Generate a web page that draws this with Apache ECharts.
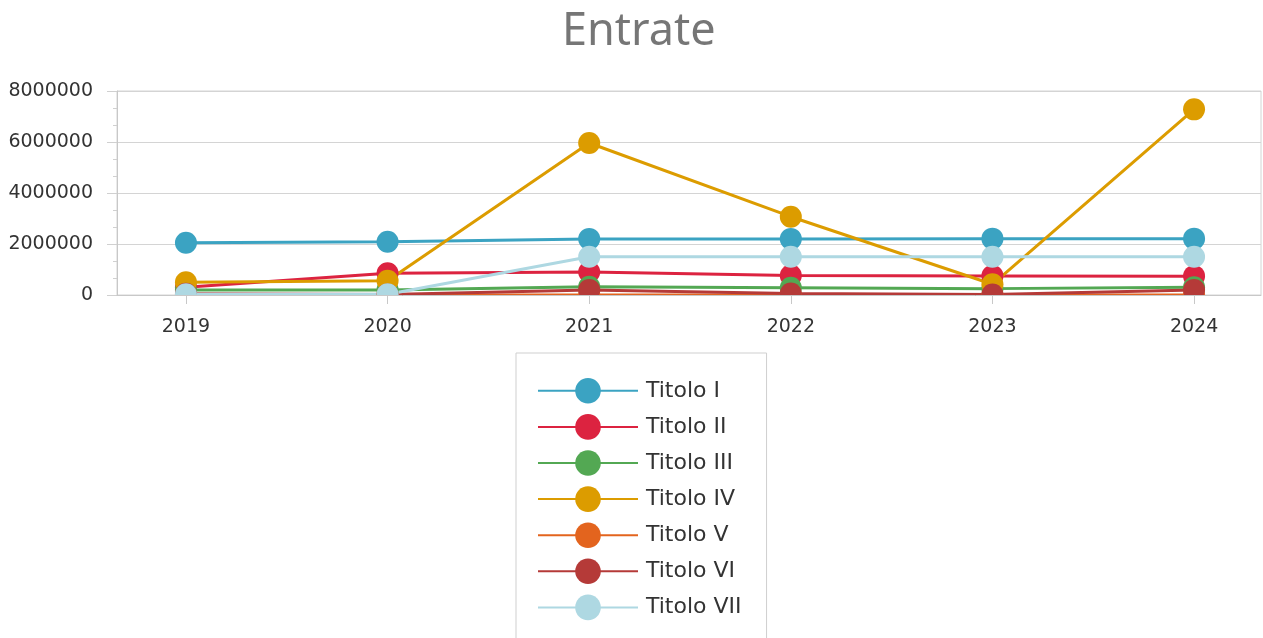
<!DOCTYPE html>
<html>
<head>
<meta charset="utf-8">
<script src="https://cdn.jsdelivr.net/npm/echarts@6/dist/echarts.min.js"></script>
<style>
html,body{margin:0;padding:0;background:#fff;}
#chart{width:1263px;height:638px;}
</style>
</head>
<body>
<div id="chart"></div>
<script>
const years = ['2019', '2020', '2021', '2022', '2023', '2024'];
const seriesNames = ['Titolo I', 'Titolo II', 'Titolo III', 'Titolo IV', 'Titolo V', 'Titolo VI', 'Titolo VII'];
const titoloI   = [2050000, 2090000, 2200000, 2200000, 2210000, 2210000];
const titoloII  = [300000, 850000, 900000, 760000, 750000, 740000];
const titoloIII = [200000, 200000, 320000, 280000, 250000, 300000];
const titoloIV  = [500000, 560000, 5960000, 3070000, 420000, 7280000];
const titoloV   = [0, 0, 0, 0, 0, 0];
const titoloVI  = [50000, 20000, 200000, 60000, 20000, 200000];
const titoloVII = [30000, 30000, 1500000, 1500000, 1500000, 1500000];
const yTicks = [0, 2000000, 4000000, 6000000, 8000000];
const colors = ['#3ba3c2', '#dc2340', '#53a853', '#dc9c00', '#e3641e', '#b53a38', '#aed8e2'];

const allValues = [titoloI, titoloII, titoloIII, titoloIV, titoloV, titoloVI, titoloVII];
const yearNums = years.map(Number);

const chart = echarts.init(document.getElementById('chart'), null, {renderer: 'canvas'});
const gridLeft = 117, gridTop = 91, gridRight = 2, gridBottom = 343;

const option = {
  animation: false,
  backgroundColor: '#fff',
  color: colors,
  title: {
    text: 'Entrate',
    left: 557,
    top: 5,
    textStyle: {fontFamily: 'Noto Sans', fontSize: 45, fontWeight: 'normal', color: '#767676'}
  },
  grid: {
    left: gridLeft, top: gridTop, right: gridRight, bottom: gridBottom,
    show: true, borderColor: '#d4d4d4', borderWidth: 1, backgroundColor: 'transparent'
  },
  xAxis: {
    type: 'value',
    min: yearNums[0] - 0.342,
    max: yearNums[yearNums.length - 1] + 0.332,
    z: 20,
    splitLine: {show: false},
    axisLine: {show: true, onZero: false, lineStyle: {color: '#c8c8c8', width: 1}},
    axisTick: {show: true, customValues: yearNums, length: 9, lineStyle: {color: '#c8c8c8'}},
    axisLabel: {
      customValues: yearNums, margin: 23,
      formatter: v => String(v),
      fontFamily: 'DejaVu Sans', fontSize: 19, color: '#333333'
    }
  },
  yAxis: {
    type: 'value',
    min: yTicks[0], max: yTicks[yTicks.length - 1], interval: 2000000,
    axisLine: {show: true, lineStyle: {color: '#c8c8c8', width: 1}},
    axisTick: {show: true, length: 10, lineStyle: {color: '#d0d0d0'}},
    minorTick: {show: true, splitNumber: 3, length: 4, lineStyle: {color: '#d0d0d0'}},
    splitLine: {show: true, lineStyle: {color: '#d4d4d4', width: 1}},
    axisLabel: {
      margin: 24, formatter: v => String(v),
      fontFamily: 'DejaVu Sans', fontSize: 19, color: '#333333'
    }
  },
  legend: {
    orient: 'vertical',
    left: 516, top: 353, height: 300,
    padding: [25, 25, 21, 21],
    borderColor: '#cfcfcf', borderWidth: 1,
    itemWidth: 100, itemHeight: 32, itemGap: 10.5,
    lineStyle: {width: 2},
    textStyle: {fontFamily: 'DejaVu Sans', fontSize: 22, color: '#333333', padding: [0, 0, 0, 3]},
    data: seriesNames
  },
  series: seriesNames.map((name, i) => ({
    name: name,
    type: 'line',
    data: yearNums.map((y, j) => [y, allValues[i][j]]),
    symbol: 'circle',
    symbolSize: 22,
    lineStyle: {width: 3, color: colors[i]},
    itemStyle: {color: colors[i]},
    clip: false
  }))
};
chart.setOption(option);

// white mask just below the x axis line so markers sitting on zero are cut at the axis, as in the reference
const mask = new echarts.graphic.Rect({
  shape: {x: gridLeft + 1, y: 638 - gridBottom + 1, width: 1263 - gridLeft - gridRight - 2, height: 12},
  style: {fill: '#ffffff'},
  silent: true,
  z: 10
});
chart.getZr().add(mask);
</script>
</body>
</html>
